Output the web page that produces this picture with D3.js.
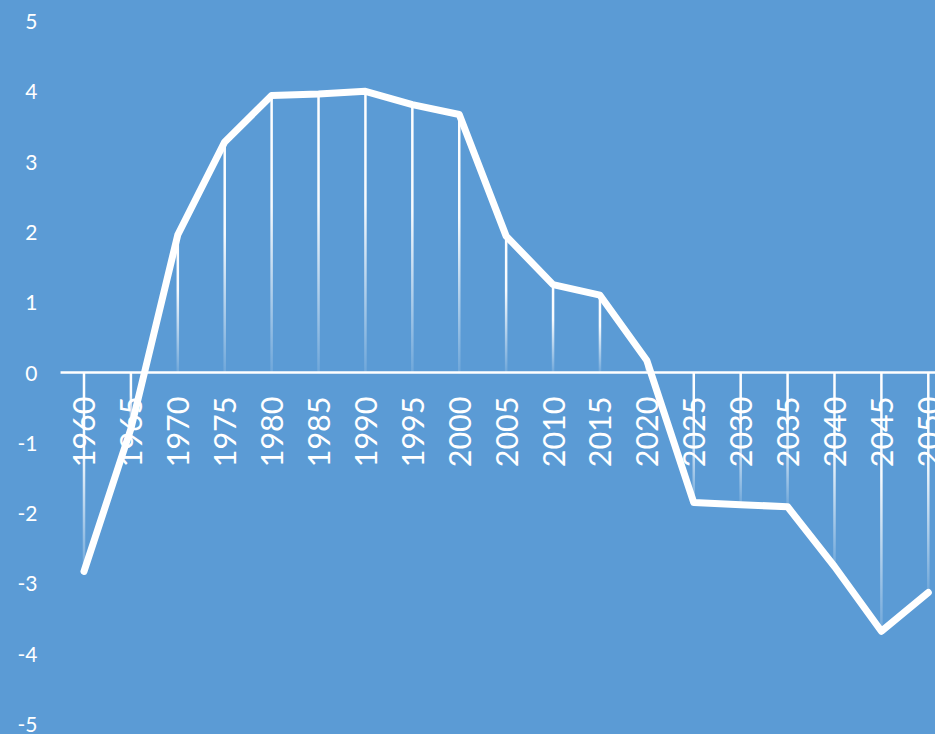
<!DOCTYPE html>
<html>
<head>
<meta charset="utf-8">
<script src="https://cdn.jsdelivr.net/npm/d3@7"></script>
<style>
  html, body { margin: 0; padding: 0; background: #5B9BD5; overflow: hidden; }
  svg { display: block; }
</style>
</head>
<body>
<div id="chart"></div>
<script>
// Yearly series, 1960–2050
const years = [1960, 1965, 1970, 1975, 1980, 1985, 1990, 1995, 2000, 2005,
               2010, 2015, 2020, 2025, 2030, 2035, 2040, 2045, 2050];
const values = [-2.83, -0.8, 1.96, 3.28, 3.94, 3.96, 4.0, 3.81, 3.67, 1.94,
                1.25, 1.1, 0.17, -1.85, -1.88, -1.91, -2.76, -3.68, -3.13];
const yTicks = [5, 4, 3, 2, 1, 0, -1, -2, -3, -4, -5];

const width = 935, height = 734;
const svg = d3.select("#chart").append("svg")
  .attr("width", width).attr("height", height);

svg.append("rect").attr("width", width).attr("height", height).attr("fill", "#5B9BD5");

const x = d3.scalePoint().domain(years).range([84, 928.3]);
const step = x.step();
const y = d3.scaleLinear().domain([-5, 5]).range([724, 21]);

// vertical fade used by the drop lines (solid at top, fading downward)
const defs = svg.append("defs");
const grad = defs.append("linearGradient").attr("id", "dropFade")
  .attr("x1", 0).attr("y1", 0).attr("x2", 0).attr("y2", 1);
grad.append("stop").attr("offset", "0%").attr("stop-color", "#fff").attr("stop-opacity", 1);
grad.append("stop").attr("offset", "40%").attr("stop-color", "#fff").attr("stop-opacity", 0.95);
grad.append("stop").attr("offset", "100%").attr("stop-color", "#fff").attr("stop-opacity", 0.12);

const data = years.map((yr, i) => ({ year: yr, value: values[i] }));

// y-axis labels (plain hyphen for negatives)
const yAxis = d3.axisLeft(y).tickValues(yTicks).tickSize(0).tickPadding(0).tickFormat(d => String(d));
const yG = svg.append("g").attr("transform", "translate(37.5,0)").call(yAxis);
yG.select(".domain").remove();
yG.selectAll("text")
  .attr("fill", "#fff")
  .attr("font-family", "Lato, 'Open Sans', sans-serif")
  .attr("font-size", 21)
  .attr("dy", "0.36em");

// drop lines from each point to the zero line
svg.append("g").selectAll("rect").data(data).join("rect")
  .attr("x", d => x(d.year) - 1.25)
  .attr("width", 2.5)
  .attr("y", d => Math.min(y(d.value), y(0)))
  .attr("height", d => Math.abs(y(d.value) - y(0)))
  .attr("fill", "url(#dropFade)");

// zero line
svg.append("line")
  .attr("x1", x(years[0]) - step / 2).attr("x2", x(years[years.length - 1]) + step / 2)
  .attr("y1", y(0)).attr("y2", y(0))
  .attr("stroke", "#fff").attr("stroke-width", 2.5);

// year labels along the zero line, rotated
const xAxis = d3.axisBottom(x).tickSize(0).tickPadding(0).tickFormat(d => String(d));
const xG = svg.append("g").attr("transform", `translate(0,${y(0)})`).call(xAxis);
xG.select(".domain").remove();
xG.selectAll("text")
  .attr("fill", "#fff")
  .attr("font-family", "Lato, 'Open Sans', sans-serif")
  .attr("font-size", 30.5)
  .attr("text-anchor", "end")
  .attr("dy", "0.36em")
  .attr("y", 0)
  .attr("x", -24)
  .attr("transform", "rotate(-90)");

// series line
const line = d3.line().x(d => x(d.year)).y(d => y(d.value));
svg.append("path").datum(data)
  .attr("d", line)
  .attr("fill", "none")
  .attr("stroke", "#fff")
  .attr("stroke-width", 7)
  .attr("stroke-linejoin", "round")
  .attr("stroke-linecap", "round");
</script>
</body>
</html>
